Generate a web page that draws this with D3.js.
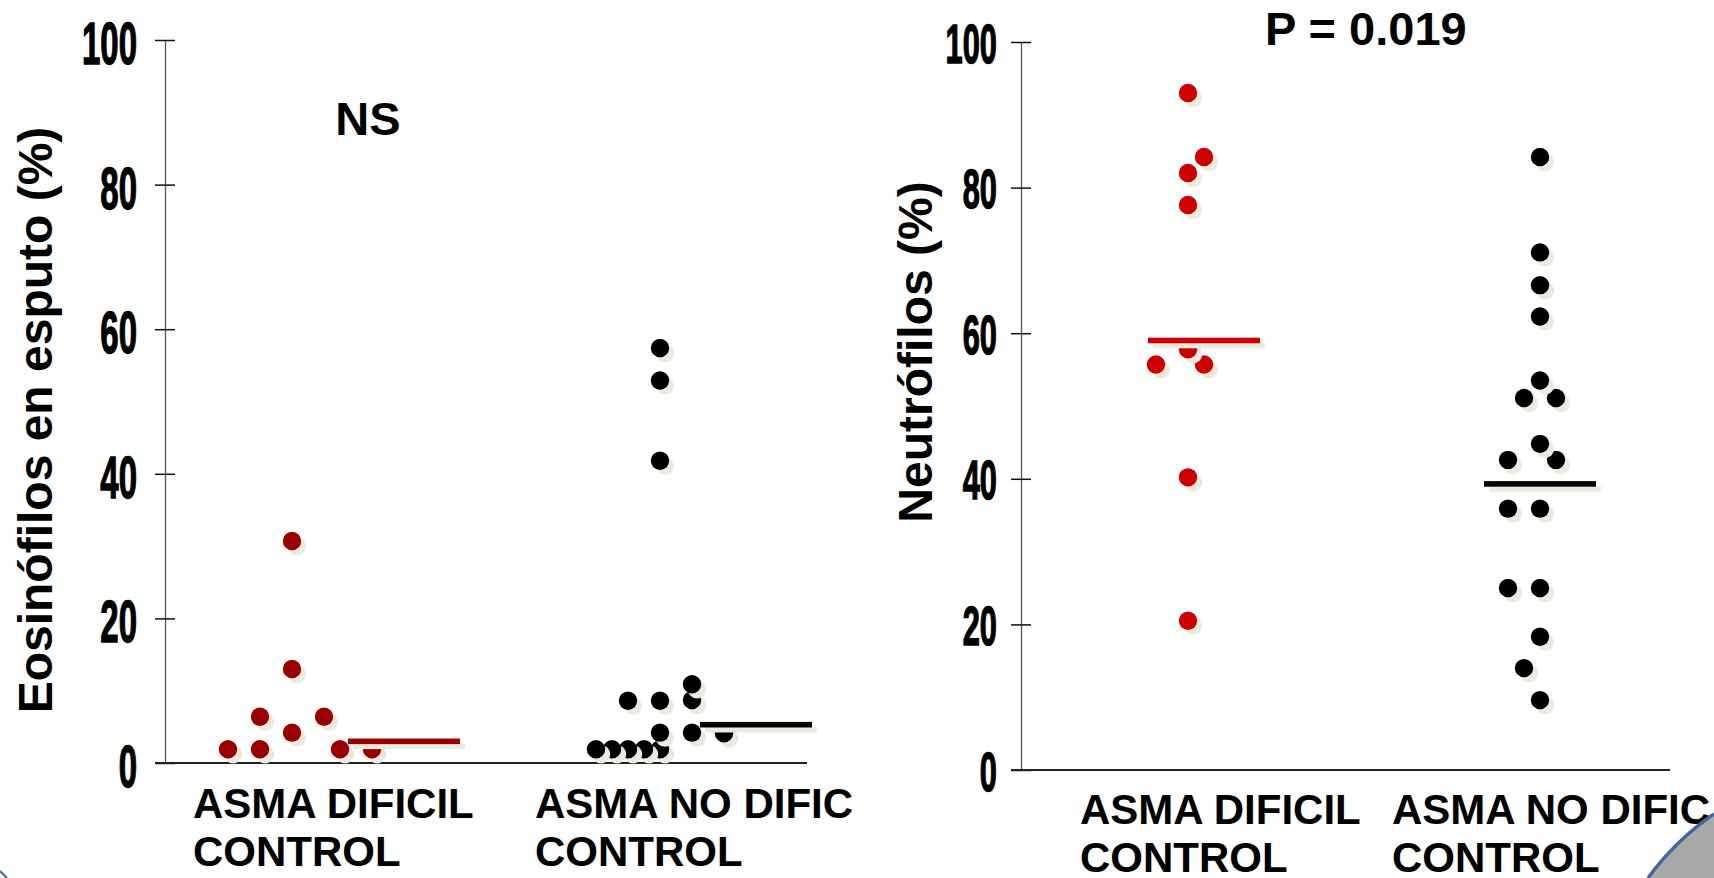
<!DOCTYPE html>
<html>
<head>
<meta charset="utf-8">
<script src="https://cdn.jsdelivr.net/npm/d3@7"></script>
<style>
  html, body { margin: 0; padding: 0; background: #fff; }
  svg { display: block; }
  text { font-family: "Liberation Sans", Arial, sans-serif; font-weight: bold; fill: #000; }
</style>
</head>
<body>
<svg id="chart" width="1714" height="878"></svg>
<script>
const CATEGORIES = ['ASMA DIFICIL', 'ASMA NO DIFIC'];
const CATEGORY_SUB = 'CONTROL';
const Y_TICKS = [0, 20, 40, 60, 80, 100];

// sputum eosinophils (%) -- col is the dot's horizontal slot inside its group
const eosDificil = [1.9, 1.9, 6.4, 30.7, 13.0, 4.2, 6.4, 1.9, 1.9];
const eosDificilCol = [-4, -2, -2, 0, 0, 0, 2, 3, 5];
const eosNoDific = [57.4, 52.9, 41.8, 8.6, 8.6, 10.9, 8.7, 4.2, 4.2, 4.1, 1.9, 1.9, 1.9, 1.9, 1.9];
const eosNoDificCol = [0, 0, 0, -2, 0, 2, 2, 0, 2, 4, -4, -3, -2, -1, 0];
const eosMeans = [3.0, 5.3];

// sputum neutrophils (%)
const neutDificil = [93.0, 84.2, 82.0, 77.6, 57.8, 55.7, 55.7, 40.2, 20.5];
const neutDificilCol = [0, 1, 0, 0, 0, -2, 1, 0, 0];
const neutNoDific = [84.2, 71.1, 66.6, 62.3, 53.5, 51.1, 51.1, 44.8, 42.6, 42.6, 35.9, 35.9, 25.0, 25.0, 18.3, 14.0, 9.6];
const neutNoDificCol = [0, 0, 0, 0, 0, -1, 1, 0, -2, 1, -2, 0, -2, 0, 0, -1, 0];
const neutMeans = [59.0, 39.3];

const zip = (values, cols) => values.map((v, i) => ({v, col: cols[i]}));

const SHADOW = '#ece9de';
const R = 9.2;
const SLOT = 16;
const OFF = 5;

const panels = [
  {
    title: 'Eosinófilos en esputo (%)',
    note: 'NS', noteX: 368, noteY: 135, noteAnchor: 'middle',
    groups: [zip(eosDificil, eosDificilCol), zip(eosNoDific, eosNoDificCol)],
    means: eosMeans,
    colors: ['#990000', '#000000'],
    x0: 165, x1: 807, yTop: 40, yBottom: 763,
    centers: [292, 660],
    meanShift: [3.5, 2.5],
    labelX: [193, 535], labelY: 818,
    tickFont: 60, tickGap: 28, tickDy: 23.5,
    titleX: 52, titleY: 420
  },
  {
    title: 'Neutrófilos (%)',
    note: 'P = 0.019', noteX: 1265, noteY: 45, noteAnchor: 'start',
    groups: [zip(neutDificil, neutDificilCol), zip(neutNoDific, neutNoDificCol)],
    means: neutMeans,
    colors: ['#cc0000', '#000000'],
    x0: 1021, x1: 1670, yTop: 42, yBottom: 770,
    centers: [1188, 1540],
    meanShift: [-2.5, -3.5],
    labelX: [1080, 1392], labelY: 824,
    tickFont: 56, tickGap: 24, tickDy: 20,
    titleX: 932, titleY: 352
  }
];

const svg = d3.select('#chart');

/**
 * draws one dot plot: y axis, baseline, dots with drop shadows, mean bars and texts
 */
function drawPanel(p) {
  const g = svg.append('g');
  const y = d3.scaleLinear().domain([0, 100]).range([p.yBottom, p.yTop]);
  const x = d3.scalePoint().domain(CATEGORIES).range(p.centers);
  const slot = d3.scaleLinear().domain([0, 1]).range([0, SLOT]);

  // y axis, ticks crossing the line on both sides
  const axis = g.append('g')
    .attr('transform', `translate(${p.x0},0)`)
    .call(d3.axisLeft(y).tickValues(Y_TICKS).tickSizeInner(10).tickSizeOuter(0));
  axis.select('.domain').attr('stroke', '#555').attr('stroke-width', 1.3);
  axis.selectAll('.tick line').attr('x1', 10).attr('stroke', '#111').attr('stroke-width', 1.5);
  axis.selectAll('.tick text')
    .attr('x', null)
    .attr('dy', null)
    .attr('transform', `translate(${-p.tickGap},${p.tickDy}) scale(0.55,1)`)
    .style('font-size', `${p.tickFont}px`)
    .style('font-family', '"Liberation Sans", Arial, sans-serif')
    .style('font-weight', 'bold')
    .attr('fill', '#000')
    .attr('stroke', '#000')
    .attr('stroke-width', 1.4);

  // x baseline
  g.append('line')
    .attr('x1', p.x0 - 10).attr('x2', p.x1)
    .attr('y1', y(0)).attr('y2', y(0))
    .attr('stroke', '#222').attr('stroke-width', 2);

  CATEGORIES.forEach((cat, i) => {
    const cx = x(cat);
    // right-most / lowest dots first so the shadows overlap like the original
    const pts = p.groups[i].slice().sort((a, b) => b.col - a.col || a.v - b.v);
    const dots = g.selectAll(null).data(pts).enter().append('g');
    dots.append('circle')
      .attr('cx', d => cx + slot(d.col) + OFF)
      .attr('cy', d => y(d.v) + OFF)
      .attr('r', R)
      .attr('fill', SHADOW);
    dots.append('circle')
      .attr('cx', d => cx + slot(d.col))
      .attr('cy', d => y(d.v))
      .attr('r', R)
      .attr('fill', p.colors[i]);

    // mean bar
    const mx = cx + slot(p.meanShift[i]);
    const mw = slot(7);
    g.append('rect')
      .attr('x', mx + OFF).attr('y', y(p.means[i]) - 2.8 + OFF)
      .attr('width', mw).attr('height', 5.6)
      .attr('fill', SHADOW);
    g.append('rect')
      .attr('x', mx).attr('y', y(p.means[i]) - 2.8)
      .attr('width', mw).attr('height', 5.6)
      .attr('fill', p.colors[i]);

    // two-line category label
    const lab = g.append('text')
      .attr('x', p.labelX[i]).attr('y', p.labelY)
      .style('font-size', '42px');
    lab.append('tspan').attr('x', p.labelX[i]).text(cat);
    lab.append('tspan').attr('x', p.labelX[i]).attr('dy', 48).text(CATEGORY_SUB);
  });

  g.append('text')
    .attr('transform', `translate(${p.titleX},${p.titleY}) rotate(-90)`)
    .attr('text-anchor', 'middle')
    .style('font-size', '48px')
    .text(p.title);

  g.append('text')
    .attr('x', p.noteX).attr('y', p.noteY)
    .attr('text-anchor', p.noteAnchor)
    .style('font-size', '47px')
    .text(p.note);
}

panels.forEach(drawPanel);

// slide frame corner, bottom right
svg.append('path')
  .attr('d', 'M1648,878 Q1676,840 1714,814 L1714,878 Z')
  .attr('fill', '#a8a8a8');
svg.append('path')
  .attr('d', 'M1648,878 Q1676,840 1714,814')
  .attr('fill', 'none')
  .attr('stroke', '#3f67a0')
  .attr('stroke-width', 3.5);
svg.append('path')
  .attr('d', 'M0,871 Q4,875 7,878')
  .attr('fill', 'none')
  .attr('stroke', '#3f67a0')
  .attr('stroke-width', 2);
</script>
</body>
</html>
